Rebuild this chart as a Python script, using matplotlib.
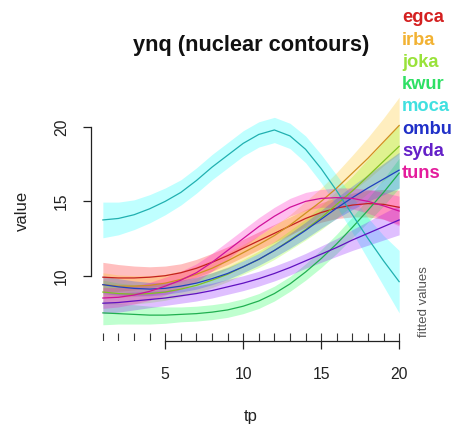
import numpy as np
import matplotlib
matplotlib.use('Agg')
import matplotlib.pyplot as plt

plt.rcParams['font.family'] = ['Liberation Sans', 'DejaVu Sans']

TITLE = 'ynq (nuclear contours)'

tp = list(range(1, 21))

groups = ['egca', 'irba', 'joka', 'kwur', 'moca', 'ombu', 'syda', 'tuns']

egca_fit = [9.9, 9.85, 9.85, 9.9, 10.0, 10.2, 10.5, 10.9, 11.35, 11.85,
            12.35, 12.85, 13.35, 13.85, 14.25, 14.55, 14.75, 14.85, 14.8, 14.6]
egca_se = [1.0, 0.9, 0.8, 0.7, 0.65, 0.6, 0.6, 0.6, 0.6, 0.6,
           0.6, 0.6, 0.6, 0.6, 0.65, 0.7, 0.8, 0.9, 1.0, 1.15]

irba_fit = [9.4, 9.3, 9.3, 9.35, 9.5, 9.75, 10.1, 10.5, 11.0, 11.55,
            12.1, 12.7, 13.4, 14.2, 15.0, 15.9, 16.9, 17.9, 19.0, 20.1]
irba_se = [0.8, 0.75, 0.7, 0.65, 0.6, 0.55, 0.55, 0.55, 0.55, 0.55,
           0.6, 0.65, 0.7, 0.8, 0.9, 1.05, 1.2, 1.4, 1.6, 1.9]

joka_fit = [8.9, 8.8, 8.75, 8.8, 8.9, 9.1, 9.35, 9.7, 10.1, 10.6,
            11.1, 11.7, 12.4, 13.1, 13.9, 14.8, 15.7, 16.7, 17.7, 18.7]
joka_se = [0.8, 0.7, 0.65, 0.6, 0.55, 0.5, 0.5, 0.5, 0.5, 0.5,
           0.55, 0.6, 0.65, 0.7, 0.8, 0.9, 1.0, 1.15, 1.3, 1.5]

kwur_fit = [7.5, 7.45, 7.4, 7.35, 7.35, 7.4, 7.45, 7.55, 7.7, 7.95,
            8.3, 8.8, 9.45, 10.25, 11.15, 12.15, 13.25, 14.4, 15.6, 16.9]
kwur_se = [0.8, 0.7, 0.65, 0.6, 0.55, 0.5, 0.5, 0.5, 0.5, 0.5,
           0.5, 0.5, 0.5, 0.55, 0.6, 0.65, 0.7, 0.8, 0.9, 1.0]

moca_fit = [13.75, 13.85, 14.1, 14.5, 15.0, 15.6, 16.4, 17.3, 18.1, 18.9,
            19.5, 19.8, 19.4, 18.5, 17.2, 15.7, 14.1, 12.5, 11.0, 9.6]
moca_se = [1.2, 1.1, 1.0, 0.95, 0.9, 0.85, 0.85, 0.85, 0.85, 0.85,
           0.85, 0.85, 0.85, 0.9, 0.95, 1.05, 1.2, 1.4, 1.7, 2.1]

ombu_fit = [9.4, 9.25, 9.15, 9.1, 9.15, 9.3, 9.5, 9.8, 10.15, 10.6,
            11.1, 11.7, 12.35, 13.05, 13.8, 14.55, 15.25, 15.9, 16.5, 17.1]
ombu_se = [0.6, 0.55, 0.5, 0.45, 0.4, 0.4, 0.4, 0.4, 0.4, 0.4,
           0.4, 0.45, 0.5, 0.55, 0.6, 0.7, 0.8, 0.9, 1.05, 1.2]

syda_fit = [8.15, 8.2, 8.3, 8.4, 8.5, 8.65, 8.8, 9.0, 9.25, 9.5,
            9.8, 10.15, 10.55, 11.0, 11.45, 11.9, 12.4, 12.85, 13.3, 13.75]
syda_se = [0.7, 0.65, 0.6, 0.55, 0.5, 0.5, 0.5, 0.5, 0.5, 0.5,
           0.5, 0.5, 0.5, 0.5, 0.55, 0.6, 0.7, 0.8, 0.9, 1.0]

tuns_fit = [8.5, 8.55, 8.7, 8.95, 9.3, 9.7, 10.2, 10.9, 11.7, 12.5,
            13.3, 14.0, 14.6, 15.0, 15.2, 15.25, 15.2, 15.0, 14.7, 14.35]
tuns_se = [0.7, 0.65, 0.6, 0.6, 0.6, 0.6, 0.6, 0.6, 0.6, 0.6,
           0.6, 0.6, 0.6, 0.6, 0.6, 0.65, 0.7, 0.8, 0.9, 1.0]

fits = [egca_fit, irba_fit, joka_fit, kwur_fit, moca_fit, ombu_fit, syda_fit, tuns_fit]
ses = [egca_se, irba_se, joka_se, kwur_se, moca_se, ombu_se, syda_se, tuns_se]

band_colors = ['#FF0000', '#FFBF00', '#80FF00', '#00FF40',
               '#00FFFF', '#0040FF', '#8000FF', '#FF00BF']
line_colors = ['#C42020', '#D09020', '#80C020', '#20B050',
               '#20B0B0', '#2040C0', '#6010C0', '#D0109A']
label_colors = ['#D42020', '#F2B233', '#99E23A', '#2EE065',
                '#40E0E0', '#2030C8', '#6420C8', '#E41C9C']


def main():
    W, H = 454, 428
    fig = plt.figure(figsize=(W / 100, H / 100), dpi=100)
    ax = fig.add_axes([91 / W, 87 / H, 320 / W, 261 / H])

    x = np.array(tp)
    for fit, se, bc, lc in zip(fits, ses, band_colors, line_colors):
        fit = np.array(fit)
        se = np.array(se)
        ax.fill_between(x, fit - se, fit + se, color=bc, alpha=0.25, lw=0)
        ax.plot(x, fit, color=lc, lw=0.9)

    # rug along the bottom
    ax.vlines(x, 0, 0.03, transform=ax.get_xaxis_transform(),
              color='#333333', lw=0.8)

    ax.set_xlim(0.24, 20.76)
    ax.set_ylim(5.61, 23.16)
    ax.set_xticks([5, 10, 15, 20])
    ax.set_yticks([10, 15, 20])
    for s in ['top', 'right']:
        ax.spines[s].set_visible(False)
    ax.spines['bottom'].set_bounds(5, 20)
    ax.spines['left'].set_bounds(10, 20)
    for s in ['bottom', 'left']:
        ax.spines[s].set_color('#222222')
        ax.spines[s].set_linewidth(0.9)
    ax.tick_params(axis='both', length=6, width=0.9, color='#222222',
                   labelsize=11.3, labelcolor='#222222')
    ax.tick_params(axis='x', pad=13)
    ax.tick_params(axis='y', pad=10)
    for lab in ax.get_yticklabels():
        lab.set_rotation(90)
        lab.set_va('center')

    fig.text(251 / W, 1 - 45 / H, TITLE, ha='center', va='center',
             fontsize=15.7, fontweight='bold', color='#111111')
    fig.text(251 / W, 1 - 417 / H, 'tp', ha='center', va='center',
             fontsize=12, color='#222222')
    fig.text(22 / W, 1 - 211 / H, 'value', ha='center', va='center',
             rotation=90, fontsize=12, color='#222222')
    fig.text(424 / W, 1 - 302 / H, 'fitted values', ha='center', va='center',
             rotation=90, fontsize=9.5, color='#555555')

    for i, (name, col) in enumerate(zip(groups, label_colors)):
        fig.text(402 / W, 1 - (18 + i * 22.2) / H, name, ha='left', va='center',
                 fontsize=13.2, fontweight='bold', color=col)

    fig.savefig('out.png', dpi=100)


if __name__ == '__main__':
    main()
